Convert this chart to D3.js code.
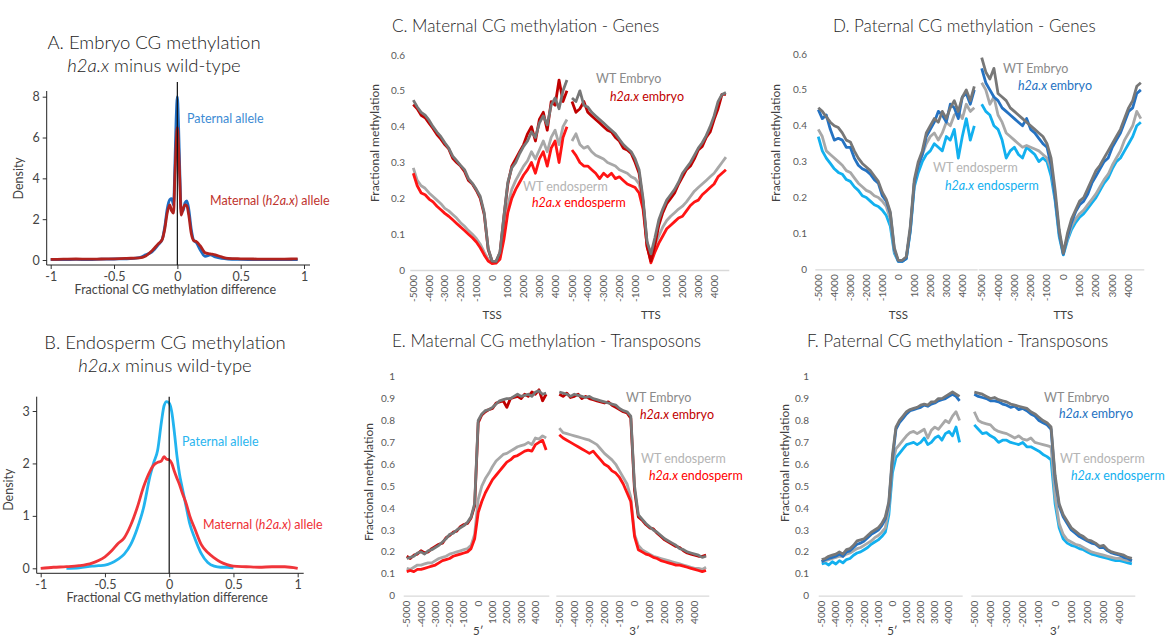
<!DOCTYPE html>
<html lang="en">
<head>
<meta charset="utf-8">
<title>h2a.x CG methylation</title>
<script src="https://d3js.org/d3.v7.min.js"></script>
<style>
  body { margin: 0; background: #fff; }
  svg text { font-family: Lato, "Open Sans", sans-serif; }
</style>
</head>
<body>
<script>
// ---------- A / B : density of methylation difference ----------
var densA_x = [-1,-0.9,-0.8,-0.7,-0.6,-0.5,-0.4,-0.3,-0.25,-0.2,
  -0.15,-0.12,-0.1,-0.08,-0.06,-0.045,-0.03,-0.02,-0.01,0,
  0.01,0.02,0.03,0.045,0.06,0.075,0.09,0.11,0.13,0.15,
  0.18,0.22,0.26,0.3,0.35,0.4,0.5,0.6,0.7,0.8,0.9,0.95];
var densA_paternal = [0.02,0.02,0.03,0.02,0.04,0.05,0.06,0.12,0.25,0.4,
  0.75,1.0,1.6,2.5,2.95,3.0,2.7,4.5,6.8,8.0,
  6.5,4.2,2.5,2.4,2.8,2.9,2.5,1.5,0.95,0.85,
  0.5,0.18,0.25,0.15,0.08,0.05,0.03,0.02,0.02,0.02,0.02,0.02];
var densA_maternal = [0.03,0.04,0.05,0.04,0.05,0.06,0.08,0.1,0.2,0.45,
  0.8,1.0,1.5,2.3,2.7,2.4,2.3,4.0,5.6,6.5,
  5.5,3.8,2.2,2.5,2.7,2.65,2.2,1.3,0.95,0.9,
  0.7,0.35,0.3,0.25,0.15,0.08,0.06,0.05,0.04,0.04,0.05,0.06];

var densB_x = [-1,-0.9,-0.8,-0.7,-0.6,-0.55,-0.5,-0.45,-0.4,-0.35,
  -0.3,-0.25,-0.2,-0.15,-0.12,-0.09,-0.06,-0.04,-0.02,0,
  0.02,0.04,0.06,0.08,0.1,0.13,0.16,0.2,0.25,0.3,
  0.35,0.4,0.45,0.5,0.6,0.7,0.8,0.9,1];
var densB_paternal = [null,null,0.0,0.01,0.04,0.05,0.06,0.1,0.17,0.27,
  0.45,0.75,1.15,1.75,2.02,2.25,2.8,3.1,3.18,3.15,
  2.98,2.6,2.15,1.8,1.55,1.2,0.85,0.57,0.28,0.11,
  0.04,0.02,0.02,0.01,null,null,null,null,null];
var densB_maternal = [0.0,0.02,0.03,0.05,0.1,0.15,0.22,0.33,0.47,0.58,
  0.82,1.15,1.55,1.85,1.97,2.02,2.05,2.13,2.08,2.07,
  2.0,1.85,1.72,1.6,1.45,1.25,1.0,0.75,0.45,0.3,
  0.2,0.12,0.07,0.04,0.03,0.02,0.03,0.03,0.0];

var diffTicks = [-1, -0.5, 0, 0.5, 1];
var densTicksA = [0, 2, 4, 6, 8];
var densTicksB = [0, 1, 2, 3];

// ---------- C - F : methylation profiles (bp from TSS/TTS or 5'/3' end) ----------
var bins = [-5000,-4750,-4500,-4250,-4000,-3750,-3500,-3250,-3000,-2750,
  -2500,-2250,-2000,-1750,-1500,-1250,-1000,-750,-500,-250,
  0,250,500,750,1000,1250,1500,1750,2000,2250,
  2500,2750,3000,3250,3500,3750,4000,4250,4500,4750];
var binTicks = [-5000,-4000,-3000,-2000,-1000,0,1000,2000,3000,4000];
var geneTicks = [0, 0.1, 0.2, 0.3, 0.4, 0.5, 0.6];
var teTicks = [0, 0.1, 0.2, 0.3, 0.4, 0.5, 0.6, 0.7, 0.8, 0.9, 1];
var geneSites = ["TSS", "TTS"];
var teSites = ["5\u2032", "3\u2032"];

// C. maternal, genes
var cTssWtEmb = [0.474,0.455,0.44,0.432,0.418,0.40,0.385,0.372,0.355,0.34,
  0.318,0.305,0.292,0.28,0.255,0.242,0.225,0.205,0.16,0.06,
  0.025,0.024,0.05,0.15,0.245,0.285,0.30,0.325,0.345,0.36,
  0.385,0.37,0.41,0.43,0.405,0.46,0.48,0.45,0.50,0.53];
var cTssMutEmb = [0.462,0.45,0.432,0.425,0.41,0.395,0.378,0.365,0.35,0.338,
  0.312,0.30,0.29,0.275,0.25,0.24,0.222,0.2,0.155,0.058,
  0.024,0.023,0.048,0.148,0.24,0.29,0.31,0.33,0.35,0.38,
  0.40,0.36,0.42,0.44,0.39,0.47,0.46,0.53,0.47,0.50];
var cTssWtEnd = [0.285,0.25,0.235,0.228,0.215,0.205,0.195,0.185,0.172,0.165,
  0.155,0.145,0.132,0.122,0.11,0.1,0.088,0.072,0.05,0.03,
  0.02,0.021,0.035,0.1,0.18,0.225,0.25,0.27,0.29,0.305,
  0.33,0.31,0.335,0.36,0.33,0.37,0.39,0.35,0.40,0.42];
var cTssMutEnd = [0.27,0.235,0.215,0.21,0.198,0.19,0.178,0.168,0.158,0.15,
  0.14,0.13,0.12,0.11,0.1,0.09,0.078,0.062,0.042,0.025,
  0.018,0.019,0.03,0.085,0.16,0.2,0.225,0.245,0.265,0.28,
  0.3,0.27,0.31,0.33,0.29,0.34,0.36,0.3,0.37,0.40];
var cTtsWtEmb = [0.48,0.47,0.50,0.46,0.455,0.44,0.43,0.42,0.41,0.40,
  0.39,0.38,0.365,0.35,0.34,0.33,0.31,0.28,0.20,0.08,
  0.045,0.09,0.14,0.17,0.195,0.21,0.225,0.245,0.27,0.285,
  0.30,0.32,0.34,0.355,0.375,0.40,0.43,0.47,0.49,0.495];
var cTtsMutEmb = [0.47,0.44,0.45,0.47,0.44,0.43,0.42,0.41,0.40,0.39,
  0.385,0.37,0.36,0.34,0.335,0.325,0.30,0.27,0.19,0.065,
  0.025,0.07,0.125,0.16,0.185,0.20,0.215,0.24,0.26,0.28,
  0.29,0.31,0.335,0.345,0.37,0.385,0.42,0.45,0.49,0.49];
var cTtsWtEnd = [0.36,0.38,0.35,0.34,0.345,0.33,0.32,0.315,0.31,0.30,
  0.295,0.29,0.28,0.275,0.27,0.26,0.255,0.24,0.19,0.08,
  0.025,0.07,0.095,0.12,0.138,0.15,0.16,0.17,0.178,0.19,
  0.205,0.22,0.23,0.24,0.25,0.26,0.27,0.285,0.30,0.315];
var cTtsMutEnd = [0.335,0.32,0.30,0.29,0.29,0.28,0.27,0.255,0.27,0.26,
  0.27,0.255,0.26,0.25,0.24,0.235,0.23,0.215,0.17,0.07,
  0.02,0.05,0.075,0.095,0.115,0.125,0.135,0.145,0.15,0.165,
  0.18,0.19,0.195,0.21,0.22,0.23,0.24,0.26,0.27,0.28];

// D. paternal, genes
var dTssWtEmb = [0.45,0.44,0.425,0.41,0.40,0.395,0.38,0.36,0.355,0.33,
  0.31,0.295,0.285,0.275,0.26,0.245,0.215,0.195,0.16,0.06,
  0.025,0.025,0.035,0.12,0.25,0.30,0.33,0.38,0.40,0.42,
  0.41,0.44,0.42,0.45,0.47,0.44,0.48,0.50,0.47,0.51];
var dTssMutEmb = [0.445,0.42,0.43,0.39,0.36,0.365,0.36,0.34,0.34,0.31,
  0.29,0.28,0.275,0.265,0.25,0.24,0.205,0.19,0.155,0.055,
  0.022,0.022,0.03,0.11,0.24,0.29,0.32,0.37,0.39,0.41,
  0.44,0.43,0.41,0.46,0.45,0.42,0.48,0.49,0.46,0.50];
var dTssWtEnd = [0.39,0.37,0.33,0.32,0.31,0.30,0.29,0.275,0.27,0.255,
  0.24,0.23,0.22,0.215,0.205,0.20,0.19,0.175,0.14,0.05,
  0.024,0.024,0.033,0.11,0.24,0.29,0.32,0.35,0.37,0.38,
  0.36,0.38,0.41,0.40,0.43,0.44,0.42,0.46,0.44,0.45];
var dTssMutEnd = [0.37,0.33,0.31,0.295,0.28,0.27,0.265,0.25,0.245,0.23,
  0.22,0.205,0.2,0.19,0.18,0.175,0.165,0.15,0.12,0.045,
  0.022,0.022,0.03,0.105,0.23,0.27,0.30,0.32,0.33,0.35,
  0.34,0.33,0.37,0.36,0.39,0.31,0.37,0.42,0.36,0.40];
var dTtsWtEmb = [0.59,0.55,0.53,0.56,0.49,0.48,0.47,0.45,0.44,0.43,
  0.42,0.41,0.40,0.39,0.38,0.37,0.35,0.31,0.22,0.11,
  0.045,0.10,0.14,0.165,0.19,0.20,0.225,0.25,0.275,0.29,
  0.31,0.33,0.35,0.37,0.39,0.42,0.45,0.47,0.51,0.52];
var dTtsMutEmb = [0.56,0.52,0.50,0.48,0.47,0.45,0.44,0.43,0.42,0.41,
  0.40,0.42,0.39,0.38,0.365,0.35,0.34,0.29,0.20,0.10,
  0.042,0.09,0.13,0.16,0.18,0.19,0.21,0.24,0.26,0.28,
  0.30,0.31,0.34,0.36,0.38,0.41,0.44,0.45,0.49,0.50];
var dTtsWtEnd = [0.52,0.50,0.46,0.48,0.43,0.41,0.38,0.37,0.36,0.35,
  0.34,0.345,0.34,0.335,0.33,0.32,0.31,0.28,0.20,0.10,
  0.045,0.085,0.12,0.14,0.155,0.165,0.18,0.195,0.21,0.23,
  0.25,0.265,0.29,0.31,0.33,0.36,0.38,0.40,0.44,0.42];
var dTtsMutEnd = [0.46,0.44,0.43,0.40,0.39,0.36,0.31,0.33,0.34,0.32,
  0.31,0.34,0.33,0.32,0.30,0.31,0.30,0.26,0.19,0.09,
  0.04,0.08,0.11,0.13,0.145,0.155,0.17,0.185,0.20,0.22,
  0.24,0.255,0.28,0.30,0.31,0.33,0.35,0.37,0.40,0.41];

// E. maternal, transposons
var eTssWtEmb = [0.17,0.175,0.18,0.195,0.20,0.19,0.205,0.21,0.22,0.23,
  0.245,0.26,0.28,0.285,0.30,0.31,0.32,0.335,0.36,0.42,
  0.80,0.83,0.845,0.85,0.86,0.875,0.89,0.895,0.90,0.90,
  0.91,0.92,0.91,0.915,0.92,0.91,0.93,0.935,0.92,0.925];
var eTssMutEmb = [0.18,0.17,0.185,0.19,0.205,0.195,0.20,0.215,0.225,0.235,
  0.24,0.265,0.275,0.29,0.295,0.315,0.325,0.33,0.355,0.41,
  0.79,0.825,0.84,0.85,0.855,0.88,0.885,0.89,0.86,0.90,
  0.905,0.91,0.90,0.92,0.91,0.93,0.92,0.94,0.89,0.92];
var eTssWtEnd = [0.125,0.12,0.13,0.14,0.14,0.145,0.15,0.15,0.16,0.17,
  0.175,0.18,0.19,0.195,0.20,0.205,0.21,0.215,0.23,0.28,
  0.44,0.50,0.535,0.56,0.59,0.615,0.63,0.645,0.65,0.66,
  0.67,0.68,0.685,0.69,0.70,0.69,0.72,0.715,0.73,0.72];
var eTssMutEnd = [0.11,0.115,0.11,0.12,0.12,0.125,0.13,0.135,0.14,0.15,
  0.16,0.165,0.17,0.18,0.185,0.19,0.195,0.20,0.215,0.26,
  0.38,0.43,0.47,0.50,0.53,0.55,0.57,0.59,0.61,0.62,
  0.635,0.64,0.65,0.66,0.665,0.66,0.69,0.70,0.71,0.665];
var eTtsWtEmb = [0.93,0.925,0.92,0.91,0.92,0.915,0.91,0.905,0.91,0.90,
  0.895,0.89,0.885,0.88,0.875,0.87,0.855,0.845,0.84,0.82,
  0.50,0.37,0.35,0.33,0.315,0.30,0.29,0.275,0.26,0.25,
  0.24,0.23,0.215,0.21,0.20,0.195,0.19,0.185,0.175,0.18];
var eTtsMutEmb = [0.92,0.91,0.925,0.905,0.91,0.92,0.90,0.91,0.90,0.895,
  0.89,0.885,0.88,0.885,0.87,0.86,0.85,0.84,0.835,0.81,
  0.48,0.36,0.345,0.325,0.31,0.305,0.285,0.27,0.255,0.245,
  0.235,0.225,0.22,0.205,0.195,0.19,0.185,0.18,0.18,0.185];
var eTtsWtEnd = [0.765,0.745,0.74,0.735,0.73,0.725,0.72,0.715,0.71,0.70,
  0.69,0.67,0.65,0.635,0.62,0.60,0.57,0.54,0.51,0.45,
  0.28,0.23,0.21,0.20,0.19,0.18,0.175,0.17,0.165,0.16,
  0.155,0.15,0.145,0.14,0.135,0.13,0.125,0.125,0.12,0.13];
var eTtsMutEnd = [0.735,0.72,0.71,0.70,0.69,0.68,0.67,0.66,0.65,0.66,
  0.64,0.62,0.60,0.59,0.57,0.56,0.54,0.51,0.47,0.43,
  0.27,0.21,0.20,0.19,0.185,0.175,0.17,0.16,0.155,0.15,
  0.145,0.14,0.14,0.135,0.13,0.125,0.12,0.115,0.11,0.115];

// F. paternal, transposons
var fTssWtEmb = [0.165,0.17,0.18,0.185,0.19,0.20,0.19,0.21,0.215,0.23,
  0.25,0.255,0.26,0.275,0.29,0.30,0.31,0.33,0.36,0.43,
  0.64,0.77,0.80,0.82,0.84,0.85,0.855,0.86,0.87,0.875,
  0.87,0.885,0.885,0.90,0.90,0.91,0.92,0.93,0.92,0.91];
var fTssMutEmb = [0.155,0.165,0.17,0.175,0.18,0.19,0.18,0.20,0.205,0.22,
  0.235,0.24,0.25,0.265,0.28,0.29,0.30,0.32,0.35,0.42,
  0.62,0.76,0.79,0.81,0.83,0.845,0.85,0.855,0.86,0.87,
  0.865,0.875,0.88,0.89,0.895,0.90,0.91,0.92,0.91,0.89];
var fTssWtEnd = [0.155,0.16,0.165,0.17,0.175,0.18,0.18,0.19,0.195,0.205,
  0.215,0.22,0.23,0.24,0.25,0.265,0.275,0.29,0.31,0.40,
  0.60,0.67,0.69,0.71,0.73,0.745,0.75,0.74,0.75,0.76,
  0.72,0.755,0.77,0.76,0.78,0.80,0.79,0.82,0.84,0.80];
var fTssMutEnd = [0.145,0.15,0.14,0.155,0.145,0.16,0.15,0.165,0.17,0.185,
  0.195,0.20,0.21,0.22,0.235,0.245,0.255,0.27,0.29,0.37,
  0.56,0.63,0.65,0.67,0.69,0.695,0.70,0.69,0.70,0.72,
  0.69,0.70,0.72,0.73,0.71,0.74,0.75,0.73,0.77,0.70];
var fTtsWtEmb = [0.93,0.925,0.92,0.91,0.90,0.905,0.895,0.89,0.885,0.875,
  0.87,0.865,0.86,0.855,0.84,0.83,0.815,0.80,0.79,0.77,
  0.55,0.42,0.37,0.34,0.31,0.295,0.28,0.27,0.255,0.25,
  0.24,0.225,0.23,0.21,0.20,0.195,0.19,0.185,0.175,0.17];
var fTtsMutEmb = [0.92,0.91,0.905,0.90,0.89,0.89,0.885,0.875,0.87,0.86,
  0.865,0.85,0.855,0.845,0.83,0.82,0.80,0.79,0.78,0.76,
  0.53,0.41,0.36,0.33,0.30,0.285,0.27,0.26,0.25,0.24,
  0.235,0.22,0.22,0.205,0.195,0.19,0.185,0.175,0.17,0.16];
var fTtsWtEnd = [0.84,0.80,0.79,0.785,0.78,0.76,0.75,0.745,0.74,0.73,
  0.72,0.73,0.715,0.71,0.72,0.70,0.695,0.69,0.685,0.68,
  0.45,0.33,0.28,0.255,0.245,0.235,0.23,0.22,0.21,0.20,
  0.195,0.19,0.185,0.18,0.175,0.17,0.17,0.165,0.16,0.16];
var fTtsMutEnd = [0.78,0.76,0.74,0.745,0.73,0.72,0.70,0.71,0.71,0.70,
  0.695,0.69,0.70,0.68,0.68,0.67,0.66,0.645,0.635,0.62,
  0.42,0.31,0.26,0.24,0.23,0.225,0.215,0.21,0.20,0.19,
  0.185,0.18,0.175,0.17,0.165,0.16,0.16,0.155,0.15,0.145];

//Colours
var grayDark = "#777777", grayLight = "#a8a8a8";
var matEmb = "#c00000", matEnd = "#ff1414";
var patEmb = "#2472c2", patEnd = "#12b0ef";

var svg = d3.select("body").append("svg")
  .attr("width", 1173).attr("height", 637);

// ---------- density panels ----------
function densityPanel(p) {
  var g = svg.append("g");
  var x = d3.scaleLinear().domain([-1, 1]).range(p.xRange);
  var y = d3.scaleLinear().domain([0, p.yMax]).range(p.yRange);
  var axisY = p.yRange[0] + 5;
  var fmt = function(d) { return String(d); };

  var xAxis = g.append("g").attr("transform", "translate(0," + axisY + ")")
    .call(d3.axisBottom(x).tickValues(diffTicks).tickSize(4).tickSizeOuter(0).tickFormat(fmt));
  var yAxis = g.append("g").attr("transform", "translate(" + (p.xRange[0] - 4) + ",0)")
    .call(d3.axisLeft(y).tickValues(p.yTicks).tickSize(4).tickSizeOuter(0).tickFormat(fmt));
  [xAxis, yAxis].forEach(function(a) {
    a.select(".domain").remove();
    a.selectAll("line").attr("stroke", "#333");
    a.selectAll("text").attr("fill", "#444").attr("font-size", 12.5).style("font-family", "Lato, sans-serif");
  });
  // axis lines
  g.append("line").attr("x1", p.xRange[0] - 4).attr("x2", p.xRange[1] + 6)
    .attr("y1", axisY).attr("y2", axisY).attr("stroke", "#222");
  g.append("line").attr("x1", p.xRange[0] - 4).attr("x2", p.xRange[0] - 4)
    .attr("y1", p.axisTop).attr("y2", axisY).attr("stroke", "#222");

  var line = d3.line()
    .defined(function(d) { return d[1] != null; })
    .x(function(d) { return x(d[0]); })
    .y(function(d) { return y(d[1]); })
    .curve(d3.curveMonotoneX);
  p.series.forEach(function(s) {
    g.append("path")
      .datum(p.xs.map(function(v, i) { return [v, s.values[i]]; }))
      .attr("d", line).attr("fill", "none")
      .attr("stroke", s.color).attr("stroke-width", 2.8)
      .attr("stroke-linejoin", "round");
  });
  // zero line
  g.append("line").attr("x1", x(0)).attr("x2", x(0))
    .attr("y1", p.zeroTop).attr("y2", axisY).attr("stroke", "#111").attr("stroke-width", 1.2);

  // titles
  g.append("text").attr("x", p.titleX).attr("y", p.titleY).attr("text-anchor", "middle")
    .attr("font-size", 18.5).attr("font-weight", 300).attr("fill", "#1a1a1a").text(p.title);
  var t2 = g.append("text").attr("x", p.titleX).attr("y", p.titleY + 23).attr("text-anchor", "middle")
    .attr("font-size", 18.5).attr("font-weight", 300).attr("fill", "#1a1a1a");
  t2.append("tspan").attr("font-style", "italic").text("h2a.x");
  t2.append("tspan").text(" minus wild-type");

  g.append("text").attr("x", x(0) - 2).attr("y", axisY + 29).attr("text-anchor", "middle")
    .attr("font-size", 12.5).attr("fill", "#444").text("Fractional CG methylation difference");
  g.append("text").attr("transform", "translate(" + p.densityX + "," + y(p.yMax / 2) + ") rotate(-90)")
    .attr("text-anchor", "middle").attr("font-size", 12.5).attr("fill", "#444").text("Density");

  p.labels.forEach(function(l) {
    var tx = g.append("text").attr("x", l.x).attr("y", l.y).attr("font-size", 12.5).attr("fill", l.color);
    l.parts.forEach(function(pt) {
      tx.append("tspan").attr("font-style", pt[1] ? "italic" : null).text(pt[0]);
    });
  });
}

densityPanel({
  title: "A. Embryo CG methylation", titleX: 154, titleY: 49,
  xRange: [50.7, 304], yRange: [260, 96.7], yMax: 8, yTicks: densTicksA,
  axisTop: 91, zeroTop: 82, densityX: 23, xs: densA_x,
  series: [{ values: densA_paternal, color: "#1f6dc2" }, { values: densA_maternal, color: "#b0221e" }],
  labels: [
    { x: 187, y: 123, color: "#3d8bd4", parts: [["Paternal allele"]] },
    { x: 210, y: 205, color: "#c0332d", parts: [["Maternal ("], ["h2a.x", true], [") allele"]] }
  ]
});
densityPanel({
  title: "B. Endosperm CG methylation", titleX: 165, titleY: 349,
  xRange: [40.7, 297.7], yRange: [568.3, 411], yMax: 3, yTicks: densTicksB,
  axisTop: 396.7, zeroTop: 396.7, densityX: 13, xs: densB_x,
  series: [{ values: densB_paternal, color: "#22b4ef" }, { values: densB_maternal, color: "#f0353a" }],
  labels: [
    { x: 182, y: 446, color: "#2ab5ef", parts: [["Paternal allele"]] },
    { x: 203, y: 529, color: "#ee3035", parts: [["Maternal ("], ["h2a.x", true], [") allele"]] }
  ]
});

// ---------- profile panels ----------
function profilePanel(p) {
  var g = svg.append("g");
  var y = d3.scaleLinear().domain([0, p.yMax]).range(p.yRange);
  var segX = [p.seg1, p.seg2].map(function(r) {
    return d3.scaleLinear().domain([-5000, 4900]).range(r);
  });

  segX.forEach(function(x, k) {
    g.append("line").attr("x1", x(-5000) - 3).attr("x2", x(4900) + 1)
      .attr("y1", y(0) + 0.5).attr("y2", y(0) + 0.5).attr("stroke", "#d9d9d9").attr("stroke-width", 1.3);
    g.selectAll(null).data(binTicks).enter().append("text")
      .attr("transform", function(d) { return "translate(" + x(d) + "," + (y(0) + 5) + ") rotate(-90)"; })
      .attr("text-anchor", "end").attr("dy", "0.35em")
      .attr("font-size", 10).attr("fill", "#595959")
      .text(function(d) { return d; });
    g.append("text").attr("x", x(0)).attr("y", p.siteY).attr("text-anchor", "middle")
      .attr("font-size", 11.5).attr("fill", "#404040").text(p.sites[k]);
  });

  g.selectAll(null).data(p.yTicks).enter().append("text")
    .attr("x", p.yLabelX).attr("y", function(d) { return y(d); }).attr("dy", "0.35em")
    .attr("text-anchor", "end").attr("font-size", 10).attr("fill", "#595959")
    .text(function(d) { return d; });
  g.append("text").attr("transform", "translate(" + p.yTitle[0] + "," + p.yTitle[1] + ") rotate(-90)")
    .attr("text-anchor", "middle").attr("font-size", 12).attr("fill", "#404040")
    .text("Fractional methylation");

  p.series.forEach(function(s) {
    [s.s1, s.s2].forEach(function(vals, k) {
      var x = segX[k];
      g.append("path")
        .datum(vals)
        .attr("d", d3.line().x(function(d, i) { return x(bins[i]); }).y(function(d) { return y(d); }))
        .attr("fill", "none").attr("stroke", s.color).attr("stroke-width", 2.8)
        .attr("stroke-linejoin", "round");
    });
  });

  g.append("text").attr("x", p.titleX).attr("y", p.titleY)
    .attr("font-size", 17).attr("font-weight", 300).attr("fill", "#262626").text(p.title);

  p.legend.forEach(function(l) {
    var tx = g.append("text").attr("x", l.x).attr("y", l.y).attr("font-size", 12.5).attr("fill", l.color);
    if (l.mut) {
      tx.append("tspan").attr("font-style", "italic").text("h2a.x");
      tx.append("tspan").text(" " + l.text);
    } else {
      tx.text(l.text);
    }
  });
}

var geneLegendText = ["WT Embryo", "embryo", "WT endosperm", "endosperm"];

profilePanel({
  title: "C. Maternal CG methylation - Genes", titleX: 392, titleY: 32,
  yMax: 0.6, yRange: [270, 55], yTicks: geneTicks,
  seg1: [413.3, 569.3], seg2: [572, 728.3], yLabelX: 405, yTitle: [379, 143],
  sites: geneSites, siteY: 319,
  series: [
    { color: grayLight, s1: cTssWtEnd, s2: cTtsWtEnd },
    { color: matEnd, s1: cTssMutEnd, s2: cTtsMutEnd },
    { color: matEmb, s1: cTssMutEmb, s2: cTtsMutEmb },
    { color: grayDark, s1: cTssWtEmb, s2: cTtsWtEmb }
  ],
  legend: [
    { x: 596, y: 83, color: "#8a8a8a", text: geneLegendText[0] },
    { x: 610, y: 101, color: "#c00000", text: geneLegendText[1], mut: true },
    { x: 523, y: 191, color: "#b4b4b4", text: geneLegendText[2] },
    { x: 532, y: 207, color: "#ff0000", text: geneLegendText[3], mut: true }
  ]
});

profilePanel({
  title: "D. Paternal CG methylation - Genes", titleX: 833, titleY: 32,
  yMax: 0.6, yRange: [269.3, 54], yTicks: geneTicks,
  seg1: [818.3, 976.7], seg2: [981.7, 1143.3], yLabelX: 807, yTitle: [780, 143],
  sites: geneSites, siteY: 319,
  series: [
    { color: patEnd, s1: dTssMutEnd, s2: dTtsMutEnd },
    { color: grayLight, s1: dTssWtEnd, s2: dTtsWtEnd },
    { color: patEmb, s1: dTssMutEmb, s2: dTtsMutEmb },
    { color: grayDark, s1: dTssWtEmb, s2: dTtsWtEmb }
  ],
  legend: [
    { x: 1003, y: 73, color: "#8a8a8a", text: geneLegendText[0] },
    { x: 1018, y: 90, color: "#2472c2", text: geneLegendText[1], mut: true },
    { x: 933, y: 172, color: "#b4b4b4", text: geneLegendText[2] },
    { x: 945, y: 190, color: "#12b0ef", text: geneLegendText[3], mut: true }
  ]
});

profilePanel({
  title: "E. Maternal CG methylation - Transposons", titleX: 392, titleY: 347,
  yMax: 1, yRange: [595.7, 376.7], yTicks: teTicks,
  seg1: [406.7, 548.3], seg2: [559.3, 708.3], yLabelX: 395, yTitle: [373, 482],
  sites: teSites, siteY: 635,
  series: [
    { color: grayLight, s1: eTssWtEnd, s2: eTtsWtEnd },
    { color: matEnd, s1: eTssMutEnd, s2: eTtsMutEnd },
    { color: matEmb, s1: eTssMutEmb, s2: eTtsMutEmb },
    { color: grayDark, s1: eTssWtEmb, s2: eTtsWtEmb }
  ],
  legend: [
    { x: 626, y: 402, color: "#8a8a8a", text: geneLegendText[0] },
    { x: 640, y: 419, color: "#c00000", text: geneLegendText[1], mut: true },
    { x: 641, y: 463, color: "#b4b4b4", text: geneLegendText[2] },
    { x: 649, y: 480, color: "#ff0000", text: geneLegendText[3], mut: true }
  ]
});

profilePanel({
  title: "F. Paternal CG methylation - Transposons", titleX: 807, titleY: 347,
  yMax: 1, yRange: [595.7, 376.7], yTicks: teTicks,
  seg1: [821.7, 961.7], seg2: [974.3, 1134.3], yLabelX: 809, yTitle: [789, 463],
  sites: teSites, siteY: 635,
  series: [
    { color: patEnd, s1: fTssMutEnd, s2: fTtsMutEnd },
    { color: grayLight, s1: fTssWtEnd, s2: fTtsWtEnd },
    { color: patEmb, s1: fTssMutEmb, s2: fTtsMutEmb },
    { color: grayDark, s1: fTssWtEmb, s2: fTtsWtEmb }
  ],
  legend: [
    { x: 1044, y: 402, color: "#8a8a8a", text: geneLegendText[0] },
    { x: 1059, y: 418, color: "#2472c2", text: geneLegendText[1], mut: true },
    { x: 1060, y: 463, color: "#b4b4b4", text: geneLegendText[2] },
    { x: 1071, y: 480, color: "#12b0ef", text: geneLegendText[3], mut: true }
  ]
});
</script>
</body>
</html>
